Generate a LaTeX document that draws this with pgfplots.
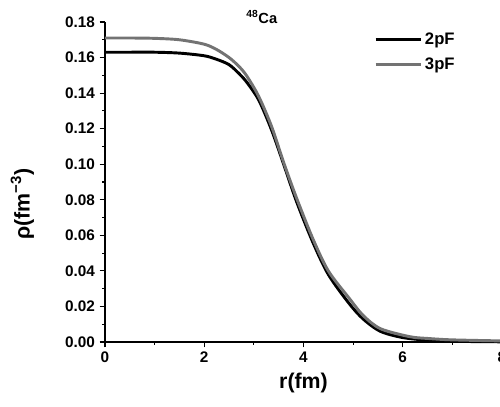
\documentclass[border=0pt]{standalone}
\usepackage{pgfplots}
\pgfplotsset{compat=1.18}
\usepackage{fontspec}
\setmainfont{Liberation Sans}
\begin{document}
\begin{tikzpicture}
  % picture frame: 1px of the reference = 0.75pt
  \path[use as bounding box] (-78.75pt,-48.75pt) rectangle (296.25pt,256.5pt);
  \begin{axis}[
    at={(0pt,0pt)}, anchor=south west,
    scale only axis, width=297.75pt, height=240pt,
    xmin=0, xmax=8, ymin=0, ymax=0.18,
    clip=false,
    axis lines*=left,
    xtick={0,2,4,6,8}, minor x tick num=1,
    ytick={0,0.02,...,0.181}, minor y tick num=1,
    tick align=outside,
    major tick length=4pt, minor tick length=2pt,
    tick style={black, line width=0.8pt},
    axis line style={line width=0.8pt},
    /pgf/number format/assume math mode=true,
    ticklabel style={font=\bfseries\fontsize{11.5}{12}\selectfont},
    y tick label style={/pgf/number format/.cd, fixed, fixed zerofill, precision=2},
    xlabel={r(fm)},
    xlabel style={font=\bfseries\fontsize{16}{18}\selectfont,
      at={(axis description cs:0.5,-0.128)}, anchor=center},
    ylabel={ρ(fm\textsuperscript{−3})},
    ylabel style={font=\bfseries\fontsize{16}{18}\selectfont,
      at={(axis description cs:-0.208,0.43)}, anchor=center},
    legend style={at={(rel axis cs:0.667,0.985)}, anchor=north west,
      draw=none, fill=none, font=\bfseries\fontsize{12.5}{14}\selectfont,
      row sep=5pt},
    legend cell align=left,
    legend image code/.code={\draw[#1] (0pt,0pt) -- (34pt,0pt);},
  ]
    % 2pF
    \addplot[black, line width=2.2pt, smooth] coordinates {
      (0,0.163) (0.5,0.163) (1,0.163) (1.5,0.1625) (2,0.161) (2.25,0.159)
      (2.5,0.156) (2.7,0.151) (2.86,0.146) (3.1,0.136) (3.36,0.119)
      (3.6,0.100) (3.86,0.079) (4.19,0.056) (4.5,0.038) (4.91,0.022)
      (5.2,0.013) (5.55,0.006) (6,0.0025) (6.5,0.001) (7,0.0004) (8,0.0001)};
    \addlegendentry{2pF}
    % 3pF
    \addplot[black!55, line width=2.2pt, smooth] coordinates {
      (0,0.171) (0.5,0.171) (1,0.1708) (1.5,0.170) (2,0.1675) (2.25,0.1645)
      (2.5,0.160) (2.7,0.155) (2.86,0.1495) (3.1,0.138) (3.36,0.121)
      (3.6,0.101) (3.86,0.081) (4.19,0.058) (4.5,0.040) (4.91,0.025)
      (5.2,0.015) (5.55,0.0075) (6.14,0.003) (6.5,0.002) (7,0.0012) (8,0.0006)};
    \addlegendentry{3pF}
    \node[font=\bfseries\fontsize{11}{12}\selectfont] at (rel axis cs:0.395,1.016)
      {\textsuperscript{48}Ca};
  \end{axis}
\end{tikzpicture}
\end{document}
